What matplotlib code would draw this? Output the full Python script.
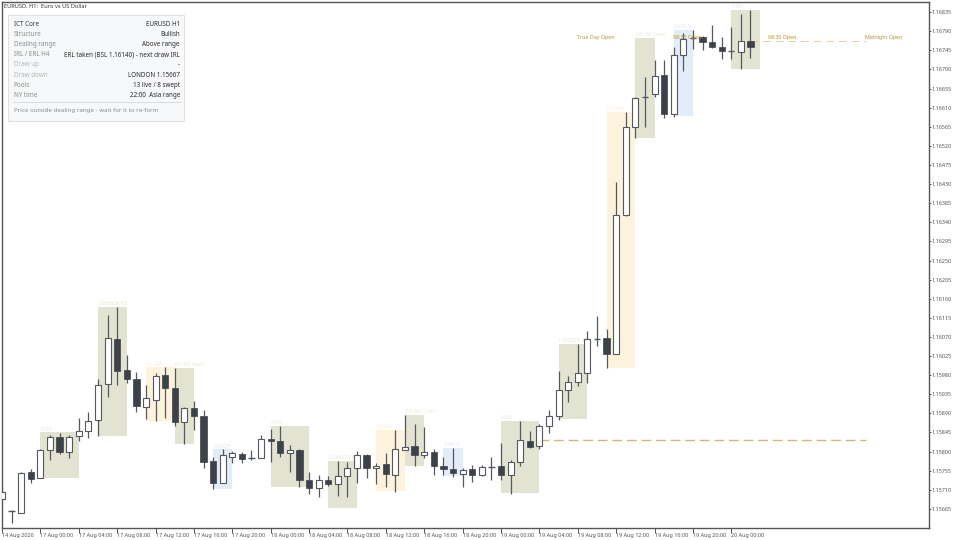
import matplotlib
matplotlib.use('Agg')
import matplotlib.pyplot as plt
from matplotlib.patches import Rectangle

plt.rcParams['font.family'] = ['Noto Sans', 'DejaVu Sans']

# H1 candles, index 0 = 14 Aug close of session
opens = [1.15688,1.15661,1.15654,1.15752,1.15737,1.15803,1.15834,1.15799,1.15837,1.15848,
         1.15875,1.15958,1.16065,1.15992,1.15971,1.15906,1.15922,1.15980,1.15950,1.15869,
         1.15902,1.15884,1.15777,1.15726,1.15788,1.15794,1.15786,1.15785,1.15829,1.15825,
         1.15797,1.15803,1.15732,1.15715,1.15732,1.15724,1.15742,1.15762,1.15792,1.15762,
         1.15770,1.15745,1.15804,1.15812,1.15792,1.15798,1.15766,1.15759,1.15748,1.15759,
         1.15745,1.15763,1.15766,1.15744,1.15775,1.15825,1.15812,1.15859,1.15884,1.15945,
         1.15964,1.15984,1.16065,1.16067,1.16029,1.16357,1.16565,1.16634,1.16642,1.16687,
         1.16596,1.16735,1.16773,1.16777,1.16764,1.16753,1.16743,1.16742,1.16766]
highs = [1.15709,1.15662,1.15752,1.15759,1.15806,1.15840,1.15844,1.15839,1.15880,1.15893,
         1.15970,1.16121,1.16141,1.16027,1.15988,1.15957,1.15984,1.16000,1.15996,1.15905,
         1.15919,1.15898,1.15788,1.15805,1.15801,1.15799,1.15803,1.15839,1.15852,1.15860,
         1.15815,1.15806,1.15751,1.15745,1.15742,1.15778,1.15776,1.15802,1.15794,1.15773,
         1.15797,1.15851,1.15886,1.15866,1.15858,1.15805,1.15788,1.15809,1.15762,1.15768,
         1.15768,1.15786,1.15819,1.15780,1.15872,1.15848,1.15866,1.15898,1.15990,1.15978,
         1.16053,1.16084,1.16119,1.16088,1.16435,1.16600,1.16636,1.16683,1.16722,1.16722,
         1.16753,1.16786,1.16794,1.16779,1.16804,1.16777,1.16800,1.16830,1.16841]
lows = [1.15686,1.15632,1.15654,1.15725,1.15737,1.15780,1.15793,1.15785,1.15825,1.15831,
        1.15837,1.15929,1.15957,1.15961,1.15894,1.15876,1.15872,1.15878,1.15860,1.15818,
        1.15851,1.15762,1.15711,1.15726,1.15774,1.15774,1.15780,1.15784,1.15776,1.15788,
        1.15752,1.15717,1.15699,1.15693,1.15719,1.15695,1.15692,1.15726,1.15737,1.15723,
        1.15717,1.15705,1.15803,1.15766,1.15784,1.15745,1.15745,1.15741,1.15717,1.15729,
        1.15742,1.15733,1.15734,1.15700,1.15766,1.15809,1.15807,1.15844,1.15874,1.15917,
        1.15954,1.15962,1.16049,1.15996,1.16029,1.16355,1.16538,1.16565,1.16636,1.16585,
        1.16587,1.16697,1.16748,1.16746,1.16750,1.16724,1.16724,1.16700,1.16728]
closes = [1.15705,1.15657,1.15749,1.15736,1.15803,1.15834,1.15799,1.15834,1.15848,1.15873,
          1.15957,1.16067,1.15990,1.15971,1.15908,1.15925,1.15977,1.15950,1.15869,1.15902,
          1.15884,1.15775,1.15726,1.15791,1.15796,1.15782,1.15783,1.15829,1.15825,1.15796,
          1.15803,1.15732,1.15715,1.15732,1.15724,1.15742,1.15762,1.15792,1.15760,1.15767,
          1.15746,1.15807,1.15810,1.15792,1.15798,1.15766,1.15759,1.15749,1.15756,1.15745,
          1.15763,1.15764,1.15745,1.15775,1.15826,1.15811,1.15859,1.15884,1.15946,1.15964,
          1.15984,1.16064,1.16066,1.16029,1.16357,1.16564,1.16634,1.16637,1.16685,1.16594,
          1.16734,1.16773,1.16774,1.16765,1.16753,1.16743,1.16742,1.16766,1.16753]

# session boxes: start candle, end candle, top, bottom, kind, label
box_start = [4,10,15,18,22,28,34,39,42,46,52,58,63,66,70,76]
box_end = [8,13,18,20,24,32,37,42,44,48,56,61,66,68,72,79]
box_top = [1.15845,1.16141,1.15998,1.15996,1.15805,1.15860,1.15778,1.15850,1.15886,1.15809,
           1.15872,1.16053,1.16600,1.16775,1.16794,1.16841]
box_bottom = [1.15738,1.15837,1.15872,1.15818,1.15711,1.15717,1.15667,1.15706,1.15766,1.15742,
              1.15703,1.15876,1.15997,1.16539,1.16591,1.16701]
box_kind = ['o','o','y','o','b','o','o','y','o','b','o','o','y','o','b','o']
box_label = ['ASIA','LONDON KZ','NY AM','NY AM Open','LUNCH','ASIA','LONDON KZ','NY AM','NY AM Open','LUNCH',
             'ASIA','LONDON KZ','NY AM','NY AM Open','LUNCH','ASIA']
box_fill = {'o':'#e3e3d1','y':'#fdf3dc','b':'#e3edf7'}
box_text = {'o':'#ebe9d6','y':'#fbf0d2','b':'#dbe6f1'}

# key levels
long_level = 1.15826
long_start = 56
open_level = 1.16766
open_start = 78
level_end = 90
open_names = ['True Day Open','08:30 Open','08:30 Open','Midnight Open']
open_pos = [59.95,69.9,79.8,89.9]
open_y = 1.16775

ytick_vals = [1.15665,1.15710,1.15755,1.15800,1.15845,1.15890,1.15935,1.15980,1.16025,
              1.16070,1.16115,1.16160,1.16205,1.16250,1.16295,1.16340,1.16385,1.16430,
              1.16475,1.16520,1.16565,1.16610,1.16655,1.16700,1.16745,1.16790,1.16835]
xtick_pos = [0,4,8,12,16,20,24,28,32,36,40,44,48,52,56,60,64,68,72,76]
xtick_labels = ['14 Aug 2026','17 Aug 00:00','17 Aug 04:00','17 Aug 08:00','17 Aug 12:00','17 Aug 16:00','17 Aug 20:00',
                '18 Aug 00:00','18 Aug 04:00','18 Aug 08:00','18 Aug 12:00','18 Aug 16:00','18 Aug 20:00',
                '19 Aug 00:00','19 Aug 04:00','19 Aug 08:00','19 Aug 12:00','19 Aug 16:00','19 Aug 20:00','20 Aug 00:00']

panel_left = ['ICT Core','Structure','Dealing range','IRL / ERL H4','Draw up','Draw down','Pools','NY time']
panel_right = ['EURUSD H1','Bullish','Above range','ERL taken (BSL 1.16140) - next draw IRL','-','LONDON 1.15667','13 live / 8 swept','22:00  Asia range']
panel_colors = ['#333333','#8a8a8a','#8a8a8a','#8a8a8a','#b4b4b4','#b4b4b4','#8a8a8a','#8a8a8a']
panel_note = 'Price outside dealing range - wait for it to re-form'

W,H = 960,540
fig = plt.figure(figsize=(W/100,H/100),dpi=100)
ax = fig.add_axes([2/W,1-527.5/H,926.5/W,525.5/H])
ax.set_xlim(0.03,96.55)
ax.set_ylim(1.15621,1.16859)

for s,e,t,b,k,lab in zip(box_start,box_end,box_top,box_bottom,box_kind,box_label):
    ax.add_patch(Rectangle((s,b),e-s,t-b,facecolor=box_fill[k],edgecolor='none',zorder=1))
    ax.text(s+0.05,t+0.00002,lab,fontsize=3.6,color=box_text[k],ha='left',va='bottom',zorder=2)

# candles
for i in range(len(opens)):
    o,h,l,c = opens[i],highs[i],lows[i],closes[i]
    ax.vlines(i,l,h,color='#55585e',lw=0.9,zorder=3)
    if abs(c-o) < 0.00004:
        ax.hlines((o+c)/2,i-0.33,i+0.33,color='#55585e',lw=1.0,zorder=4)
    elif c >= o:
        ax.bar(i,c-o,bottom=o,width=0.62,facecolor='white',edgecolor='#55585e',lw=0.8,zorder=4)
    else:
        ax.bar(i,o-c,bottom=c,width=0.66,facecolor='#3d4149',edgecolor='#3d4149',lw=0.5,zorder=4)

ax.hlines(long_level,long_start,level_end,color='#d8b577',lw=1.0,linestyles=(0,(7,3.5)),zorder=2)
ax.hlines(open_level,open_start,level_end,color='#e6cfa0',lw=0.7,linestyles=(0,(8,5)),zorder=2)
for name,p in zip(open_names,open_pos):
    ax.text(p,open_y,name,fontsize=3.8,color='#b8912f',ha='left',va='center',zorder=5)

for side in ax.spines.values():
    side.set_color('#555555')
    side.set_linewidth(1.0)
ax.yaxis.tick_right()
ax.set_yticks(ytick_vals)
ax.set_yticklabels(['%.5f' % v for v in ytick_vals])
ax.set_xticks(xtick_pos)
ax.set_xticklabels(xtick_labels,ha='left')
ax.tick_params(axis='y',length=1.6,width=0.7,color='#555555',labelsize=3.9,labelcolor='#555555',pad=0.5)
ax.tick_params(axis='x',length=3.5,width=0.7,color='#555555',labelsize=3.9,labelcolor='#555555',pad=0.5)

fig.text(4/W,1-6/H,'EURUSD, H1:  Euro vs US Dollar',fontsize=4.1,color='#333333',ha='left',va='center')

# info panel, drawn in pixel coordinates of the figure
def px(x,y):
    return x/W,1-y/H

fig.add_artist(Rectangle(px(8,120.7),176.3/W,105.7/H,transform=fig.transFigure,facecolor='#f7f8fa',edgecolor='#dde0e5',lw=0.7,zorder=6))
row_y = 24
for a,b,col in zip(panel_left,panel_right,panel_colors):
    x,y = px(13.5,row_y)
    fig.text(x,y,a,fontsize=4.5,color=col,ha='left',va='center',zorder=7)
    x,y = px(180,row_y)
    fig.text(x,y,b,fontsize=4.5,color='#2a2a2a',ha='right',va='center',zorder=7)
    row_y += 10.25
x0,y0 = px(13.3,102.3)
x1,y1 = px(180,102.3)
fig.add_artist(plt.Line2D([x0,x1],[y0,y1],transform=fig.transFigure,color='#d5d8dc',lw=0.6,zorder=7))
x,y = px(13.5,110.3)
fig.text(x,y,panel_note,fontsize=4.45,color='#8a8a8a',ha='left',va='center',zorder=7)

fig.savefig('out.png',dpi=100)
